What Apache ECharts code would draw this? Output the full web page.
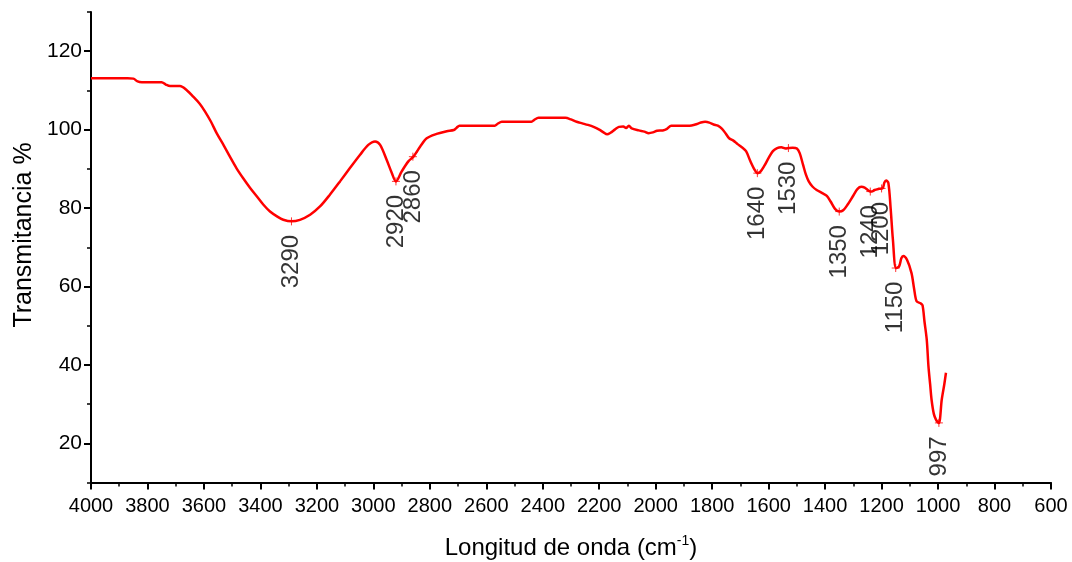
<!DOCTYPE html>
<html>
<head>
<meta charset="utf-8">
<script src="https://cdn.jsdelivr.net/npm/echarts@6/dist/echarts.min.js"></script>
<style>
html,body{margin:0;padding:0;background:#fff;}
#chart{width:1072px;height:562px;}
</style>
</head>
<body>
<div id="chart"></div>
<script>
// Spectrum (wavenumber cm-1, transmittance %)
var waveNumbers = [4000,3870,3850,3835,3820,3750,3735,3720,3685,3660,3638,3615,3596,3575,3555,3530,3508,3485,3461,3437,3413,3390,3366,3340,3319,3290,3260,3224,3189,3154,3118,3083,3047,3018,2994,2976,2953,2935,2920,2900,2876,2858,2845,2834,2811,2776,2740,2715,2705,2695,2570,2560,2545,2440,2430,2415,2320,2300,2280,2260,2240,2220,2200,2185,2172,2160,2145,2130,2115,2105,2095,2085,2060,2040,2025,2010,1995,1975,1960,1945,1880,1860,1840,1825,1810,1795,1780,1765,1752,1740,1725,1710,1695,1680,1665,1650,1640,1630,1615,1600,1585,1570,1555,1540,1530,1515,1500,1490,1478,1468,1458,1445,1430,1410,1394,1380,1365,1350,1335,1320,1300,1285,1272,1260,1245,1235,1225,1210,1196,1190,1184,1176,1168,1160,1149,1138,1130,1123,1110,1094,1085,1076,1062,1055,1048,1040,1034,1028,1023,1015,1007,997,987,978,972];
var transmittance = [113.1,113.1,113.0,112.3,112.1,112.1,111.5,111.1,111.1,110,108.4,106.6,104.6,102,99.1,96,93.1,90.2,87.6,85.2,83.0,80.9,79.1,77.8,77.0,76.6,77.0,78.3,80.4,83.4,86.8,90.2,93.6,96.1,97.0,96.1,92.3,89,86.8,89.3,91.9,93.1,94.5,95.7,97.8,98.9,99.6,99.9,100.5,101,101,101.5,102,102,102.5,103,103,102.6,102,101.6,101.2,100.7,100,99.3,98.8,99.2,100,100.7,100.8,100.4,101,100.3,99.8,99.5,99.1,99.3,99.7,99.8,100.2,101,101,101.3,101.8,102,101.8,101.3,101,100.2,99,97.8,97.2,96.3,95.5,94.5,92,89.8,88.9,89.2,90.8,92.8,94.5,95.3,95.5,95.2,95.3,95.4,95.2,94,91,88.5,86.8,85.5,84.6,83.8,83.1,81.6,79.8,79.1,79.5,80.9,83.2,84.9,85.4,85.2,84.4,84.2,84.6,84.9,85.1,86.5,87.0,86.4,80,72,64.7,65.1,67.2,67.8,66.8,63.4,59.5,56.2,55.7,55.2,51,46.4,39.6,35,31.1,27.5,26,25.2,31.1,35,38];

// Labelled peaks
var peakX = [3290, 2920, 2860, 1640, 1530, 1350, 1240, 1200, 1150, 997];
var peakY = [76.6, 86.8, 93.1, 88.9, 95.3, 79.1, 84.2, 85.0, 64.7, 25.2];
var peakLabels = ['3290','2920','2860','1640','1530','1350','1240','1200','1150','997'];

// Axis ticks
var xMin = 600, xMax = 4000, xStep = 200;
var yMajorTicks = [20, 40, 60, 80, 100, 120];
var yMinorTicks = [10, 30, 50, 70, 90, 110, 130];
var yMin = 10, yMax = 130;

var lineData = waveNumbers.map(function (w, i) { return [w, transmittance[i]]; });
var peakData = peakX.map(function (w, i) { return { value: [w, peakY[i]], name: peakLabels[i] }; });

var FONT = 'Liberation Sans, Arial, sans-serif';
var chart = echarts.init(document.getElementById('chart'), null, { renderer: 'canvas' });
chart.setOption({
  animation: false,
  backgroundColor: '#ffffff',
  grid: { left: 91, right: 21, top: 12, bottom: 79.5 },
  xAxis: {
    type: 'value', min: xMin, max: xMax, interval: xStep, inverse: true,
    axisLine: { show: true, onZero: false, lineStyle: { color: '#000', width: 2 } },
    axisTick: { show: true, inside: false, length: 7, lineStyle: { color: '#000', width: 2 } },
    minorTick: { show: true, splitNumber: 2, length: 4, lineStyle: { color: '#000', width: 1.5 } },
    axisLabel: { fontSize: 20, color: '#000', fontFamily: FONT, margin: 14, formatter: function (v) { return String(v); } },
    splitLine: { show: false }
  },
  yAxis: [{
    type: 'value', min: yMin, max: yMax, interval: 10,
    axisLine: { show: true, onZero: false, lineStyle: { color: '#000', width: 2 } },
    axisTick: { show: true, length: 7, customValues: yMajorTicks, lineStyle: { color: '#000', width: 2 } },
    axisLabel: { fontSize: 21, color: '#000', fontFamily: FONT, margin: 9, customValues: yMajorTicks, formatter: function (v) { return String(v); } },
    splitLine: { show: false }
  }, {
    type: 'value', min: yMin, max: yMax, interval: 10, position: 'left',
    axisLine: { show: false, onZero: false },
    axisTick: { show: true, length: 4, customValues: yMinorTicks, lineStyle: { color: '#000', width: 1.5 } },
    axisLabel: { show: false },
    splitLine: { show: false }
  }],
  graphic: [{
    type: 'text', x: 24, y: 235, rotation: Math.PI / 2,
    style: { text: 'Transmitancia %', fontSize: 25, fontFamily: FONT, fill: '#000', align: 'center', verticalAlign: 'middle' }
  }, {
    type: 'text', x: 571, y: 548,
    style: {
      text: '{a|Longitud de onda (cm}{s|-1}{a|)}', align: 'center', verticalAlign: 'middle',
      rich: {
        a: { fontSize: 24, fontFamily: FONT, fill: '#000', lineHeight: 28 },
        s: { fontSize: 14, fontFamily: FONT, fill: '#000', verticalAlign: 'top' }
      }
    }
  }],
  series: [{
    type: 'line', data: lineData, showSymbol: false, smooth: 0.3,
    lineStyle: { color: '#ff0000', width: 2.5 }, z: 2
  }, {
    type: 'scatter', data: peakData, symbol: 'path://M0,-5L0,5M-5,0L5,0', symbolSize: 8,
    itemStyle: { color: 'transparent', borderColor: '#ff0000', borderWidth: 1 },
    label: {
      show: true, formatter: function (p) { return p.name; }, position: 'bottom', distance: 9,
      rotate: 90, align: 'right', verticalAlign: 'middle',
      fontSize: 24, fontFamily: FONT, color: '#000'
    },
    labelLayout: { hideOverlap: false },
    z: 3
  }]
});
</script>
</body>
</html>
